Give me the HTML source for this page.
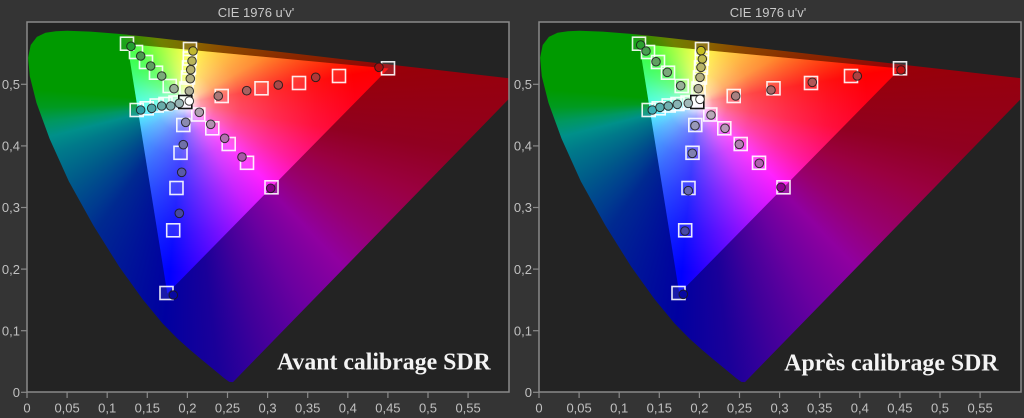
<!DOCTYPE html>
<html><head><meta charset="utf-8">
<style>
html,body{margin:0;padding:0;background:#343434;}
body{width:1024px;height:418px;position:relative;overflow:hidden;}
.panel{position:absolute;top:0;width:512px;height:418px;}
.plot{position:absolute;left:27px;top:22px;width:482px;height:370px;background:#232323;overflow:hidden;}
.lay{position:absolute;left:0;top:0;width:482px;height:370px;}
.locus{clip-path:polygon(206px 360.1px,202.3px 359.9px,197.4px 356.4px,188.2px 348.7px,173.3px 336.5px,163.1px 327.9px,150.5px 316.6px,135.5px 301.4px,115.6px 277.3px,92px 244.4px,66.4px 203.5px,41.8px 159.2px,22.6px 116.7px,9.5px 80.9px,2.8px 54.2px,1.1px 35.7px,3.7px 23px,9.9px 14.9px,18.5px 10.8px,28.9px 9.2px,40.2px 8.8px,63.5px 9.6px,90.4px 11.7px,122.8px 15.1px,162.5px 19.6px,210.4px 25.1px,265.9px 31.4px,323.6px 38.1px,376.3px 44.1px,417.3px 48.8px,467.6px 54.6px,500px 58.3px);
background:conic-gradient(from 0deg at 158.5px 80.5px,#7f6c00 0deg,#8a6000 14deg,#8a4a00 35deg,#8a3800 56deg,#8a2000 72deg,#980008 80.5deg,#900020 100deg,#9a0040 111deg,#980070 125deg,#9000a0 136deg,#6a00a0 150deg,#40009a 163deg,#1a0099 173deg,#0000a0 185.3deg,#001598 200deg,#002a90 215deg,#003a8f 221deg,#005a8a 235deg,#007a8a 249deg,#00908a 256deg,#009860 262deg,#009a20 268deg,#009a00 275deg,#009a00 315deg,#3a8c00 322deg,#708000 338deg,#7f6c00 360deg);}
.tri{clip-path:polygon(361.5px 46.5px,100.3px 22px,140.3px 271.5px);
background:radial-gradient(circle at 158.5px 80.5px,#fff 0px,rgba(255,255,255,.9) 6px,rgba(255,255,255,.62) 15px,rgba(255,255,255,.42) 30px,rgba(255,255,255,.28) 55px,rgba(255,255,255,.17) 90px,rgba(255,255,255,.07) 130px,rgba(255,255,255,0) 170px),
conic-gradient(from 0deg at 158.5px 80.5px,#f4ff00 0deg,#ffff00 4.8deg,#ffc800 25deg,#ffa000 42deg,#ff7000 60deg,#ff3000 72deg,#ff0000 80.5deg,#ff0030 100deg,#ff0090 118deg,#ff00ff 134.4deg,#c000ff 150deg,#7000ff 165deg,#3000ff 177deg,#0000ff 185.3deg,#0040ff 210deg,#0090ff 235deg,#00d0ff 250deg,#00ffff 261deg,#00ff90 285deg,#00ff40 300deg,#00ff00 315deg,#60ff00 330deg,#b0ff00 345deg,#f4ff00 360deg);}
svg{position:absolute;left:0;top:0;overflow:visible;}
.tk{font-family:"Liberation Sans",sans-serif;font-size:13px;fill:#c0c0c0;}
.ttl{font-family:"Liberation Sans",sans-serif;font-size:13px;fill:#c8c8c8;}
.big{font-family:"Liberation Serif",serif;font-weight:bold;font-size:23.8px;fill:#f4f4f4;}
.sq rect{fill:rgba(255,255,255,0.1);stroke:rgba(255,255,255,0.9);stroke-width:1.6;}
.ci circle{stroke:#1a1a1a;stroke-opacity:.85;stroke-width:1;}
</style></head><body>

<!-- LEFT PANEL -->
<div class="panel" style="left:0">
  <div class="plot"><div class="lay locus"></div><div class="lay tri"></div></div>
  <svg width="512" height="418" viewBox="0 0 512 418">
    <rect x="27" y="22" width="482" height="370" fill="none" stroke="#8a8a8a" stroke-width="1.5"/>
    <text class="ttl" x="256" y="17" text-anchor="middle">CIE 1976 u'v'</text>
    <g stroke="#8a8a8a" stroke-width="1.2">
      <line x1="27" y1="392" x2="27" y2="398"/><line x1="67.1" y1="392" x2="67.1" y2="398"/><line x1="107.2" y1="392" x2="107.2" y2="398"/><line x1="147.3" y1="392" x2="147.3" y2="398"/><line x1="187.4" y1="392" x2="187.4" y2="398"/><line x1="227.5" y1="392" x2="227.5" y2="398"/><line x1="267.6" y1="392" x2="267.6" y2="398"/><line x1="307.7" y1="392" x2="307.7" y2="398"/><line x1="347.8" y1="392" x2="347.8" y2="398"/><line x1="387.9" y1="392" x2="387.9" y2="398"/><line x1="428" y1="392" x2="428" y2="398"/><line x1="468.1" y1="392" x2="468.1" y2="398"/>
      <line x1="21" y1="392.3" x2="27" y2="392.3"/><line x1="21" y1="330.7" x2="27" y2="330.7"/><line x1="21" y1="269.1" x2="27" y2="269.1"/><line x1="21" y1="207.5" x2="27" y2="207.5"/><line x1="21" y1="145.9" x2="27" y2="145.9"/><line x1="21" y1="84.3" x2="27" y2="84.3"/>
    </g>
    <g class="tk" text-anchor="middle">
      <text x="27" y="412.5">0</text><text x="67.1" y="412.5">0,05</text><text x="107.2" y="412.5">0,1</text><text x="147.3" y="412.5">0,15</text><text x="187.4" y="412.5">0,2</text><text x="227.5" y="412.5">0,25</text><text x="267.6" y="412.5">0,3</text><text x="307.7" y="412.5">0,35</text><text x="347.8" y="412.5">0,4</text><text x="387.9" y="412.5">0,45</text><text x="428" y="412.5">0,5</text><text x="468.1" y="412.5">0,55</text>
    </g>
    <g class="tk" text-anchor="end">
      <text x="20" y="397">0</text><text x="20" y="335.4">0,1</text><text x="20" y="273.8">0,2</text><text x="20" y="212.2">0,3</text><text x="20" y="150.6">0,4</text><text x="20" y="89">0,5</text>
    </g>
    <g class="sq">
      <rect x="120.5" y="37.2" width="13" height="13"/><rect x="129.5" y="45.5" width="13" height="13"/><rect x="139.5" y="55.5" width="13" height="13"/><rect x="149.5" y="66.2" width="13" height="13"/><rect x="163.2" y="79.5" width="13" height="13"/>
      <rect x="183.5" y="42.5" width="13" height="13"/><rect x="183.3" y="52" width="13" height="13"/><rect x="182.5" y="61" width="13" height="13"/><rect x="181.5" y="71" width="13" height="13"/><rect x="180" y="82" width="13" height="13"/>
      <rect x="130.2" y="103.5" width="13" height="13"/><rect x="140.2" y="101.8" width="13" height="13"/><rect x="150.2" y="99" width="13" height="13"/><rect x="159" y="97.5" width="13" height="13"/><rect x="169" y="96" width="13" height="13"/>
      <rect x="215.2" y="89.5" width="13" height="13"/><rect x="255" y="81.8" width="13" height="13"/><rect x="292.5" y="76.5" width="13" height="13"/><rect x="332.5" y="69.5" width="13" height="13"/><rect x="381.5" y="61.8" width="13" height="13"/>
      <rect x="191.8" y="108" width="13" height="13"/><rect x="205.8" y="121.8" width="13" height="13"/><rect x="222.2" y="137.5" width="13" height="13"/><rect x="240.5" y="156.3" width="13" height="13"/><rect x="265" y="180.8" width="13" height="13"/>
      <rect x="176.8" y="118.5" width="13" height="13"/><rect x="174" y="146.3" width="13" height="13"/><rect x="170" y="181.5" width="13" height="13"/><rect x="166.7" y="223.8" width="13" height="13"/><rect x="160" y="286.5" width="13" height="13"/>
    </g>
    <rect x="178.8" y="95.5" width="13" height="13" fill="rgba(255,255,255,0.6)" stroke="#111" stroke-width="1.6"/>
    <g class="ci">
      <circle cx="131" cy="46.3" r="4.3" fill="#22a030"/><circle cx="140.7" cy="56" r="4.3" fill="#4c9a50"/><circle cx="150.7" cy="66" r="4.3" fill="#5ea060"/><circle cx="161.7" cy="76" r="4.3" fill="#7aaa7a"/><circle cx="174" cy="88.7" r="4.3" fill="#9ab09a"/>
      <circle cx="193" cy="51" r="4.3" fill="#c0b830"/><circle cx="192" cy="61" r="4.3" fill="#b8b45a"/><circle cx="190.7" cy="69.7" r="4.3" fill="#b4b070"/><circle cx="190.3" cy="78.7" r="4.3" fill="#b0ae80"/><circle cx="189.3" cy="91" r="4.3" fill="#aeae96"/>
      <circle cx="140.7" cy="110" r="4.3" fill="#30a0a8"/><circle cx="151.7" cy="108.3" r="4.3" fill="#50a8a8"/><circle cx="161.7" cy="106" r="4.3" fill="#68acaa"/><circle cx="170.7" cy="106" r="4.3" fill="#80b0b0"/><circle cx="179.3" cy="103.3" r="4.3" fill="#98b4b4"/>
      <circle cx="379" cy="67.3" r="4.3" fill="#a81010"/><circle cx="315.7" cy="77.3" r="4.3" fill="#b03838"/><circle cx="278.3" cy="85" r="4.3" fill="#a84848"/><circle cx="246.7" cy="90.7" r="4.3" fill="#a86060"/><circle cx="218.3" cy="96" r="4.3" fill="#a87878"/>
      <circle cx="199.3" cy="112.3" r="4.3" fill="#b0a0b0"/><circle cx="210.7" cy="124.3" r="4.3" fill="#b090b0"/><circle cx="224.7" cy="138.3" r="4.3" fill="#b070b0"/><circle cx="242" cy="157" r="4.3" fill="#a858a8"/><circle cx="270.7" cy="188.3" r="4.3" fill="#880088"/>
      <circle cx="185.7" cy="122.3" r="4.3" fill="#8a8ab0"/><circle cx="183.3" cy="144.7" r="4.3" fill="#7070a8"/><circle cx="181.7" cy="172.3" r="4.3" fill="#5a5aa8"/><circle cx="179.3" cy="213.3" r="4.3" fill="#4848a0"/><circle cx="173.3" cy="295" r="4.3" fill="#0808a0"/>
      <circle cx="189.3" cy="101" r="4.3" fill="#ffffff"/>
    </g>
    <text class="big" x="277" y="369.5">Avant calibrage SDR</text>
  </svg>
</div>

<!-- RIGHT PANEL -->
<div class="panel" style="left:512px">
  <div class="plot"><div class="lay locus"></div><div class="lay tri"></div></div>
  <svg width="512" height="418" viewBox="0 0 512 418">
    <rect x="27" y="22" width="482" height="370" fill="none" stroke="#8a8a8a" stroke-width="1.5"/>
    <text class="ttl" x="256" y="17" text-anchor="middle">CIE 1976 u'v'</text>
    <g stroke="#8a8a8a" stroke-width="1.2">
      <line x1="27" y1="392" x2="27" y2="398"/><line x1="67.1" y1="392" x2="67.1" y2="398"/><line x1="107.2" y1="392" x2="107.2" y2="398"/><line x1="147.3" y1="392" x2="147.3" y2="398"/><line x1="187.4" y1="392" x2="187.4" y2="398"/><line x1="227.5" y1="392" x2="227.5" y2="398"/><line x1="267.6" y1="392" x2="267.6" y2="398"/><line x1="307.7" y1="392" x2="307.7" y2="398"/><line x1="347.8" y1="392" x2="347.8" y2="398"/><line x1="387.9" y1="392" x2="387.9" y2="398"/><line x1="428" y1="392" x2="428" y2="398"/><line x1="468.1" y1="392" x2="468.1" y2="398"/>
      <line x1="21" y1="392.3" x2="27" y2="392.3"/><line x1="21" y1="330.7" x2="27" y2="330.7"/><line x1="21" y1="269.1" x2="27" y2="269.1"/><line x1="21" y1="207.5" x2="27" y2="207.5"/><line x1="21" y1="145.9" x2="27" y2="145.9"/><line x1="21" y1="84.3" x2="27" y2="84.3"/>
    </g>
    <g class="tk" text-anchor="middle">
      <text x="27" y="412.5">0</text><text x="67.1" y="412.5">0,05</text><text x="107.2" y="412.5">0,1</text><text x="147.3" y="412.5">0,15</text><text x="187.4" y="412.5">0,2</text><text x="227.5" y="412.5">0,25</text><text x="267.6" y="412.5">0,3</text><text x="307.7" y="412.5">0,35</text><text x="347.8" y="412.5">0,4</text><text x="387.9" y="412.5">0,45</text><text x="428" y="412.5">0,5</text><text x="468.1" y="412.5">0,55</text>
    </g>
    <g class="tk" text-anchor="end">
      <text x="20" y="397">0</text><text x="20" y="335.4">0,1</text><text x="20" y="273.8">0,2</text><text x="20" y="212.2">0,3</text><text x="20" y="150.6">0,4</text><text x="20" y="89">0,5</text>
    </g>
    <g class="sq">
      <rect x="120.5" y="37.2" width="13" height="13"/><rect x="129.5" y="45.5" width="13" height="13"/><rect x="139.5" y="55.5" width="13" height="13"/><rect x="149.5" y="66.2" width="13" height="13"/><rect x="163.2" y="79.5" width="13" height="13"/>
      <rect x="183.5" y="42.5" width="13" height="13"/><rect x="183.3" y="52" width="13" height="13"/><rect x="182.5" y="61" width="13" height="13"/><rect x="181.5" y="71" width="13" height="13"/><rect x="180" y="82" width="13" height="13"/>
      <rect x="130.2" y="103.5" width="13" height="13"/><rect x="140.2" y="101.8" width="13" height="13"/><rect x="150.2" y="99" width="13" height="13"/><rect x="159" y="97.5" width="13" height="13"/><rect x="169" y="96" width="13" height="13"/>
      <rect x="215.2" y="89.5" width="13" height="13"/><rect x="255" y="81.8" width="13" height="13"/><rect x="292.5" y="76.5" width="13" height="13"/><rect x="332.5" y="69.5" width="13" height="13"/><rect x="381.5" y="61.8" width="13" height="13"/>
      <rect x="191.8" y="108" width="13" height="13"/><rect x="205.8" y="121.8" width="13" height="13"/><rect x="222.2" y="137.5" width="13" height="13"/><rect x="240.5" y="156.3" width="13" height="13"/><rect x="265" y="180.8" width="13" height="13"/>
      <rect x="176.8" y="118.5" width="13" height="13"/><rect x="174" y="146.3" width="13" height="13"/><rect x="170" y="181.5" width="13" height="13"/><rect x="166.7" y="223.8" width="13" height="13"/><rect x="160" y="286.5" width="13" height="13"/>
    </g>
    <rect x="178.8" y="95.5" width="13" height="13" fill="rgba(255,255,255,0.6)" stroke="#111" stroke-width="1.6"/>
    <g class="ci">
      <circle cx="128.7" cy="45" r="4.3" fill="#2aa030"/><circle cx="134" cy="51" r="4.3" fill="#48a050"/><circle cx="144" cy="61.7" r="4.3" fill="#60a060"/><circle cx="155.3" cy="72.3" r="4.3" fill="#7aa87a"/><circle cx="168.7" cy="85.7" r="4.3" fill="#98b098"/>
      <circle cx="189" cy="50.7" r="4.3" fill="#c8c020"/><circle cx="190.3" cy="59" r="4.3" fill="#c0bc50"/><circle cx="189" cy="67.3" r="4.3" fill="#b8b468"/><circle cx="188" cy="77.3" r="4.3" fill="#b4b080"/><circle cx="186.3" cy="88.7" r="4.3" fill="#b0ae98"/>
      <circle cx="140.3" cy="110" r="4.3" fill="#40b0b8"/><circle cx="148" cy="107.3" r="4.3" fill="#58b0b0"/><circle cx="156.3" cy="106" r="4.3" fill="#70b0b0"/><circle cx="165.3" cy="104.3" r="4.3" fill="#88b4b4"/><circle cx="176.3" cy="103.3" r="4.3" fill="#a0b8b8"/>
      <circle cx="389" cy="70" r="4.3" fill="#c01010"/><circle cx="345.3" cy="76" r="4.3" fill="#b04040"/><circle cx="300.3" cy="82.3" r="4.3" fill="#b05858"/><circle cx="259" cy="90" r="4.3" fill="#a86868"/><circle cx="223.7" cy="96" r="4.3" fill="#a88080"/>
      <circle cx="199" cy="115" r="4.3" fill="#b8a8b8"/><circle cx="213" cy="128.3" r="4.3" fill="#b898b8"/><circle cx="227.3" cy="144.3" r="4.3" fill="#b080b0"/><circle cx="247.3" cy="163.3" r="4.3" fill="#b060b0"/><circle cx="269" cy="187.3" r="4.3" fill="#900090"/>
      <circle cx="183" cy="125.7" r="4.3" fill="#9898b8"/><circle cx="180.3" cy="153.3" r="4.3" fill="#8080b0"/><circle cx="176.3" cy="190.7" r="4.3" fill="#6868b0"/><circle cx="173" cy="231" r="4.3" fill="#4848a8"/><circle cx="171.3" cy="294.3" r="4.3" fill="#0808a0"/>
      <circle cx="188" cy="99.3" r="4.3" fill="#ffffff"/>
    </g>
    <text class="big" x="272.3" y="370.5">Après calibrage SDR</text>
  </svg>
</div>

</body></html>
